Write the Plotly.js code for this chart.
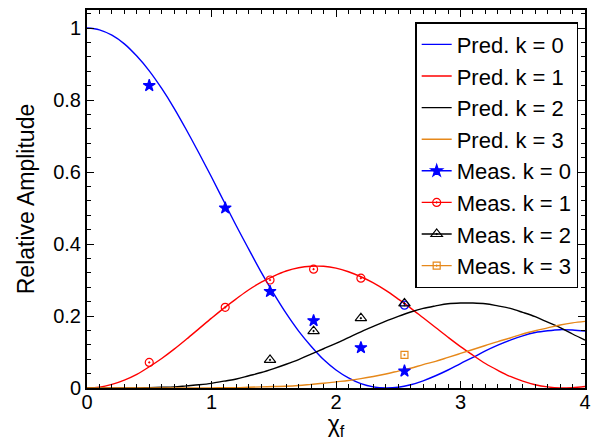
<!DOCTYPE html>
<html>
<head>
<meta charset="utf-8">
<script src="https://cdn.plot.ly/plotly-3.0.1.min.js"></script>
<style>
  html, body { margin: 0; padding: 0; background: #fff; }
  #chart { width: 598px; height: 440px; }
</style>
</head>
<body>
<div id="chart"></div>
<script>
// Normalised filter coordinate for the predicted curves
const chi = [0.0,0.1,0.2,0.3,0.4,0.5,0.6,0.7,0.8,0.9,1.0,1.1,1.2,1.3,1.4,1.5,1.6,1.7,1.8,1.9,2.0,
             2.1,2.2,2.3,2.4,2.5,2.6,2.7,2.8,2.9,3.0,3.1,3.2,3.3,3.4,3.5,3.6,3.7,3.8,3.9,4.0];

// Predicted relative amplitudes, k = 0..3
const predK0 = [1.000,0.995,0.980,0.956,0.922,0.881,0.832,0.777,0.716,0.652,0.586,0.518,0.450,0.385,0.321,0.262,0.207,0.158,0.116,0.079,0.050,
                0.028,0.012,0.003,0.000,0.002,0.009,0.020,0.034,0.050,0.068,0.085,0.103,0.119,0.133,0.145,0.154,0.159,0.162,0.161,0.158];
const predK1 = [0.000,0.002,0.010,0.022,0.038,0.059,0.082,0.108,0.136,0.165,0.194,0.222,0.248,0.273,0.294,0.311,0.325,0.334,0.338,0.338,0.333,
                0.323,0.309,0.292,0.271,0.247,0.222,0.195,0.168,0.141,0.115,0.091,0.068,0.049,0.032,0.019,0.009,0.003,0.000,0.001,0.004];
const predK2 = [0.000,0.000,0.000,0.000,0.000,0.001,0.002,0.003,0.006,0.009,0.013,0.019,0.025,0.034,0.043,0.054,0.066,0.079,0.094,0.109,0.124,
                0.140,0.156,0.171,0.186,0.199,0.211,0.221,0.228,0.234,0.236,0.236,0.234,0.228,0.221,0.210,0.198,0.183,0.168,0.150,0.133];
const predK3 = [0.000,0.000,0.000,0.000,0.000,0.000,0.000,0.000,0.000,0.000,0.000,0.001,0.001,0.002,0.003,0.004,0.005,0.007,0.010,0.013,0.017,
                0.021,0.026,0.032,0.039,0.047,0.055,0.065,0.074,0.085,0.096,0.107,0.118,0.129,0.139,0.150,0.159,0.167,0.175,0.181,0.185];

// Measured amplitudes
const measX    = [0.50, 1.11, 1.47, 1.82, 2.20, 2.55];
const measK0   = [0.840, 0.500, 0.268, 0.187, 0.112, 0.047];
const measK1   = [0.071, 0.224, 0.300, 0.330, 0.305, 0.230];
const measK2X  = [1.47, 1.82, 2.20, 2.55];
const measK2   = [0.078, 0.158, 0.194, 0.235];
const measK3X  = [2.55];
const measK3   = [0.092];

const BLUE = '#0000ff', RED = '#ff0000', BLACK = '#000000', ORANGE = '#e6881a';
const FONT = 'Liberation Sans, Arial, Helvetica, sans-serif';

// Separate measured points with gaps so no connecting line is drawn,
// while the legend still shows a line through the marker.
function gapped(arr) {
  const out = [];
  arr.forEach((v, i) => { if (i) out.push(null); out.push(v); });
  return out;
}

function pred(y, color, name) {
  return { x: chi, y: y, type: 'scatter', mode: 'lines', name: name,
           line: { color: color, width: 1.4, shape: 'spline', smoothing: 1 } };
}
function meas(x, y, color, symbol, size, name, pointColors) {
  const c = pointColors ? gapped(pointColors) : color;
  return { x: gapped(x), y: gapped(y), type: 'scatter', mode: 'lines+markers', name: name,
           connectgaps: false,
           line: { color: color, width: 1.4 },
           marker: { symbol: symbol, size: size, color: c, line: { color: c, width: 1.2 } } };
}

const traces = [
  pred(predK0, BLUE,   'Pred. k = 0'),
  pred(predK1, RED,    'Pred. k = 1'),
  pred(predK2, BLACK,  'Pred. k = 2'),
  pred(predK3, ORANGE, 'Pred. k = 3'),
  meas(measX,   measK0, BLUE,   'star',                  9, 'Meas. k = 0'),
  meas(measX,   measK1, RED,    'circle-open-dot',       8, 'Meas. k = 1',
       [RED, RED, RED, RED, RED, BLUE]),
  meas(measK2X, measK2, BLACK,  'triangle-up-open-dot', 10, 'Meas. k = 2'),
  meas(measK3X, measK3, ORANGE, 'square-open-dot',       7, 'Meas. k = 3')
];

const axisCommon = {
  showgrid: false, zeroline: false,
  showline: true, linecolor: '#000', linewidth: 2, mirror: 'ticks',
  ticks: 'inside', ticklen: 7, tickwidth: 1, tickcolor: '#000',
  tickfont: { family: FONT, size: 20, color: '#000' }
};

const layout = {
  width: 598, height: 440,
  margin: { l: 87, r: 13, t: 10, b: 52 },
  paper_bgcolor: '#fff', plot_bgcolor: '#fff',
  font: { family: FONT, color: '#000' },
  showlegend: true,
  legend: {
    x: 0.659, y: 0.968, xanchor: 'left', yanchor: 'top',
    bgcolor: '#fff', bordercolor: '#000', borderwidth: 1.5,
    font: { family: FONT, size: 22, color: '#000' },
    entrywidth: 106, entrywidthmode: 'pixels',
    tracegroupgap: 0
  },
  xaxis: Object.assign({}, axisCommon, {
    range: [0, 4], dtick: 1, tick0: 0, ticklabelstandoff: -5,
    minor: { dtick: 0.1, ticks: 'inside', ticklen: 4, tickcolor: '#000' },
    title: { text: 'χ<sub>f</sub>', font: { size: 23 }, standoff: 2 }
  }),
  yaxis: Object.assign({}, axisCommon, {
    range: [0, 1.05], dtick: 0.2, tick0: 0,
    minor: { dtick: 0.04, ticks: 'inside', ticklen: 4, tickcolor: '#000' },
    title: { text: 'Relative Amplitude', font: { size: 23 }, standoff: 12 }
  })
};

Plotly.newPlot('chart', traces, layout, { displayModeBar: false, staticPlot: true });
</script>
</body>
</html>
